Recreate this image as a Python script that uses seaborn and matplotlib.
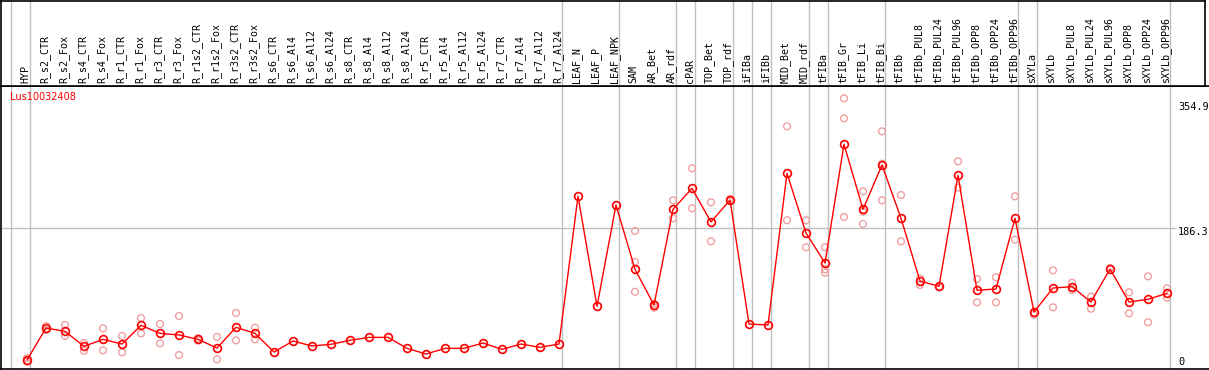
import numpy as np
import pandas as pd
import matplotlib
matplotlib.use('Agg')
import matplotlib.pyplot as plt
import seaborn as sns

# categories and values
categories = ['HYP', 'R_s2_CTR', 'R_s2_Fox', 'R_s4_CTR', 'R_s4_Fox', 'R_r1_CTR', 'R_r1_Fox',
              'R_r3_CTR', 'R_r3_Fox', 'R_r1s2_CTR', 'R_r1s2_Fox', 'R_r3s2_CTR', 'R_r3s2_Fox',
              'R_s6_CTR', 'R_s6_Al4', 'R_s6_Al12', 'R_s6_Al24', 'R_s8_CTR', 'R_s8_Al4',
              'R_s8_Al12', 'R_s8_Al24', 'R_r5_CTR', 'R_r5_Al4', 'R_r5_Al12', 'R_r5_Al24',
              'R_r7_CTR', 'R_r7_Al4', 'R_r7_Al12', 'R_r7_Al24', 'LEAF_N', 'LEAF_P', 'LEAF_NPK',
              'SAM', 'AR_Bet', 'AR_rdf', 'cPAR', 'TOP_Bet', 'TOP_rdf', 'iFIBa', 'iFIBb',
              'MID_Bet', 'MID_rdf', 'tFIBa', 'tFIB_Gr', 'tFIB_Li', 'tFIB_Bi', 'tFIBb',
              'tFIBb_PUL8', 'tFIBb_PUL24', 'tFIBb_PUL96', 'tFIBb_OPP8', 'tFIBb_OPP24',
              'tFIBb_OPP96', 'sXYLa', 'sXYLb', 'sXYLb_PUL8', 'sXYLb_PUL24', 'sXYLb_PUL96',
              'sXYLb_OPP8', 'sXYLb_OPP24', 'sXYLb_OPP96']

mean_vals = [2.8, 47.3, 42.7, 21.8, 31.5, 25.0, 51.0, 39.9, 37.6, 31.5, 19.5, 48.3, 39.9,
             13.9, 29.2, 22.3, 24.6, 30.2, 34.3, 34.3, 19.0, 11.1, 19.0, 19.0, 26.4, 17.6,
             25.0, 20.4, 25.0, 230.6, 77.5, 218.5, 129.0, 79.3, 212.5, 241.7, 194.9, 225.5,
             52.9, 51.5, 262.6, 179.5, 137.8, 303.0, 212.5, 274.2, 200.0, 112.7, 105.3,
             259.8, 99.8, 101.6, 200.0, 69.6, 103.0, 104.8, 83.5, 129.4, 83.5, 87.3, 95.6]

nan = np.nan
rep_a = [5.5, 50.0, 51.5, 26.4, 46.9, 36.2, 61.2, 52.9, 64.0, 33.0, 34.8, 68.2, 47.7,
         nan, nan, nan, nan, nan, nan, nan, nan, nan, nan, nan, nan, nan, nan, nan, nan,
         nan, nan, nan, 182.3, 75.6, 225.0, 269.6, 222.3, 227.0, nan, nan, 328.0, 197.2,
         159.6, 367.0, 237.5, 321.0, 232.4, 116.0, 104.0, 279.3, 115.5, 117.9, 230.6,
         65.8, 127.6, 110.4, 90.9, 131.0, 97.0, 119.3, 102.6]
rep_b = [0.5, 44.5, 36.2, 15.8, 16.2, 13.5, 39.9, 26.0, 9.7, 30.0, 3.7, 30.2, 31.5,
         nan, nan, nan, nan, nan, nan, nan, nan, nan, nan, nan, nan, nan, nan, nan, nan,
         nan, nan, nan, 139.2, 81.0, 200.0, 213.9, 168.0, 224.0, nan, nan, 197.2, 159.6,
         129.0, 339.2, 192.1, 225.0, 168.0, 107.2, nan, 242.6, 83.0, 83.0, 170.2,
         68.0, 76.1, 100.2, 74.2, nan, 67.8, 55.3, 89.5]
rep_c = [nan] * 32 + [97.8] + [nan] * 9 + [124.3, 201.8, 209.0, 276.0] + [nan] * 15

group_ends = [-1, 0, 28, 31, 34, 35, 37, 38, 39, 41, 42, 45, 52, 53, 60]
right_labels = ['354.9', '186.3', '0']
right_label_y = [355.0, 181.0, 0.0]
grid_value = 186.3
gene = 'Lus10032408'

mean_color = '#ff0000'
rep_color = '#f0a0a0'
sep_color = '#c0c0c0'

idx = np.arange(len(categories))
means = pd.DataFrame({'idx': idx, 'value': mean_vals})
reps = pd.DataFrame({'idx': np.concatenate([idx, idx, idx]),
                     'value': rep_a + rep_b + rep_c}).dropna()

W, H = 1209, 370


def px2idx(px):
    # 19 px per category, first category at x=27
    return (px - 27) / 19


def px2val(py):
    return (362 - py) * 354.9 / 255


sns.set_style('white')
fig = plt.figure(figsize=(W / 100, H / 100), dpi=100)
fig.patch.set_facecolor('white')

# data area
ax = fig.add_axes([1 / W, (H - 369) / H, (W - 1) / W, (369 - 86) / H])
ax.set_xlim(px2idx(1), px2idx(W))
ax.set_ylim(px2val(369), px2val(86))

# header with the category names
hax = fig.add_axes([1 / W, (H - 86) / H, (1205 - 1) / W, 85.5 / H])
hax.set_xlim(px2idx(1), px2idx(1205))
hax.set_ylim(0, 1)

for a in (ax, hax):
    a.set_xticks([])
    a.set_yticks([])
    a.set_xlabel('')
    a.set_ylabel('')
    for s in a.spines.values():
        s.set_color('black')
        s.set_linewidth(1.2)
    for g in group_ends:
        a.axvline(g + 0.16, color=sep_color, lw=1, zorder=0)
ax.spines['right'].set_visible(False)

ax.hlines(grid_value, px2idx(1), px2idx(1176), color=sep_color, lw=1, zorder=0)

sns.scatterplot(data=reps, x='idx', y='value', ax=ax, marker='o', s=24,
                facecolor='none', edgecolor=rep_color, linewidth=1.0, zorder=2)
sns.lineplot(data=means, x='idx', y='value', ax=ax, color=mean_color, lw=1,
             marker='o', markersize=5.6, markerfacecolor='none',
             markeredgecolor=mean_color, markeredgewidth=1.2, zorder=3)
ax.set_xlabel('')
ax.set_ylabel('')

for i, name in enumerate(categories):
    hax.text(i - 0.08, 0.035, name, rotation=90, ha='center', va='bottom',
             fontsize=7.2, family='DejaVu Sans Mono', color='black')

ax.text(9 / (W - 1), 0.961, gene, transform=ax.transAxes, ha='left', va='center',
        fontsize=7, color='red')

for lab, yv in zip(right_labels, right_label_y):
    ax.text(px2idx(1178), yv, lab, ha='left', va='center', fontsize=7.4,
            family='DejaVu Sans Mono', color='black')

fig.savefig('out.png', dpi=100)
